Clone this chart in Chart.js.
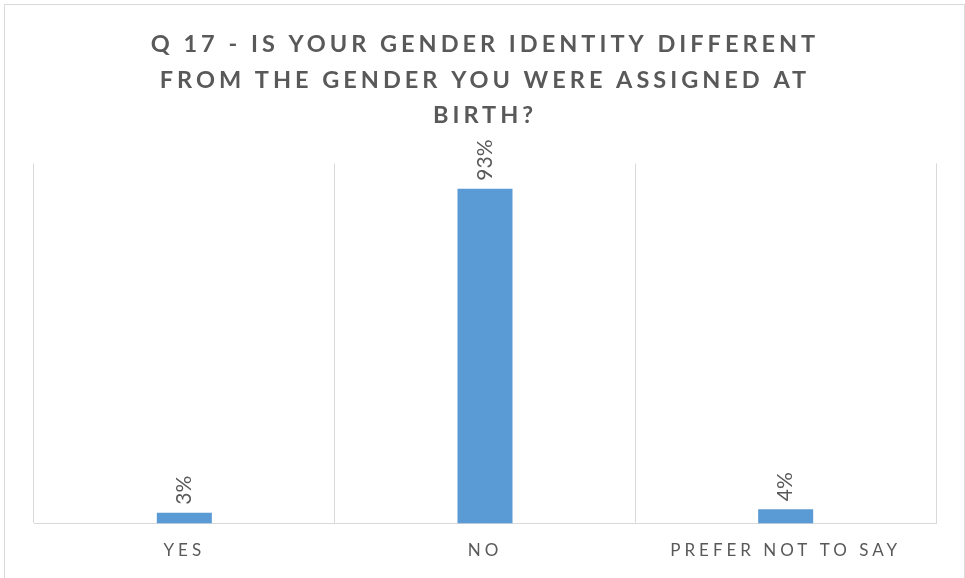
<!DOCTYPE html>
<html>
<head>
<meta charset="utf-8">
<script src="https://cdn.jsdelivr.net/npm/chart.js@4"></script>
<style>
  html, body { margin: 0; padding: 0; background: #fff; overflow: hidden; }
  #frame {
    position: absolute; left: 4px; top: 4px; width: 959px; height: 600px;
    border: 1px solid #d9d9d9; border-bottom: none;
  }
  #wrap { position: absolute; left: 0; top: 0; width: 965px; height: 578px; }
</style>
</head>
<body>
<div id="frame"></div>
<div id="wrap"><canvas id="chart"></canvas></div>
<script>
const categories = ['YES', 'NO', 'PREFER NOT TO SAY'];
const percents = [3, 93, 4];
const valueLabels = ['3%', '93%', '4%'];
const titleLines = ['Q 17 - IS YOUR GENDER IDENTITY DIFFERENT', 'FROM THE GENDER YOU WERE ASSIGNED AT', 'BIRTH?'];

// letter spacing for title + axis labels, none for the value labels
const spacing = {
  id: 'spacing',
  beforeDraw(chart) {
    chart.ctx.letterSpacing = '4px';
  },
  afterDatasetsDraw(chart) {
    const ctx = chart.ctx;
    ctx.letterSpacing = '0px';
    const meta = chart.getDatasetMeta(0);
    ctx.save();
    ctx.fillStyle = '#595959';
    ctx.font = '21px Lato';
    ctx.textAlign = 'left';
    ctx.textBaseline = 'middle';
    meta.data.forEach((bar, i) => {
      ctx.save();
      ctx.translate(bar.x, bar.y - 8);
      ctx.rotate(-Math.PI / 2);
      ctx.fillText(valueLabels[i], 0, 0);
      ctx.restore();
    });
    ctx.restore();
  }
};

new Chart(document.getElementById('chart'), {
  type: 'bar',
  data: {
    labels: categories,
    datasets: [{
      data: percents,
      backgroundColor: '#5b9bd5',
      borderWidth: 0,
      categoryPercentage: 1,
      barPercentage: 0.183
    }]
  },
  options: {
    responsive: true,
    maintainAspectRatio: false,
    animation: false,
    layout: { padding: { left: 34, right: 29, top: 14, bottom: 0 } },
    plugins: {
      legend: { display: false },
      tooltip: { enabled: false },
      title: {
        display: true,
        text: titleLines,
        color: '#595959',
        font: { family: 'Lato', size: 23.5, weight: 'bold', lineHeight: 1.51 },
        padding: { top: 13, bottom: 30 }
      }
    },
    scales: {
      x: {
        grid: { offset: true, color: '#d9d9d9', drawTicks: false },
        border: { color: '#d9d9d9' },
        ticks: {
          color: '#595959',
          padding: 17,
          maxRotation: 0,
          font: { family: 'Lato', size: 17 }
        }
      },
      y: {
        display: false,
        min: 0,
        max: 100
      }
    }
  },
  plugins: [spacing]
});
</script>
</body>
</html>
